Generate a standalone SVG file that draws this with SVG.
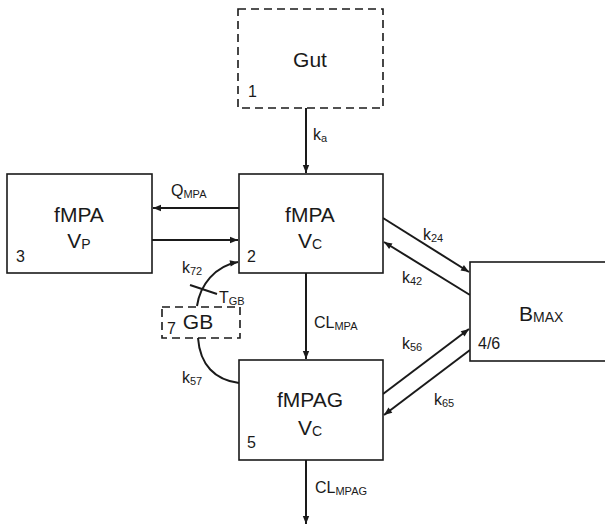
<svg xmlns="http://www.w3.org/2000/svg" width="605" height="526" viewBox="0 0 605 526">
<defs>
<marker id="ah" viewBox="0 0 10 10" refX="10" refY="5" markerWidth="9" markerHeight="8" markerUnits="userSpaceOnUse" orient="auto">
<path d="M0,1 L10,5 L0,9 z" fill="#1a1a1a"/>
</marker>
<style>
.box{fill:#fff;stroke:#1a1a1a;stroke-width:1.6}
.dbox{fill:none;stroke:#1a1a1a;stroke-width:1.6;stroke-dasharray:8,5}
.c{fill:none;stroke:#1a1a1a;stroke-width:2}
text{font-family:"Liberation Sans",Arial,sans-serif;fill:#1a1a1a}
.big{font-size:21px;text-anchor:middle}
.vs{font-size:14px}
.num{font-size:16px}
.lbl{font-size:16px}
.sub{font-size:11px}
</style>
</defs>
<g id="connectors">
<line class="c" x1="306" y1="108" x2="306" y2="173" marker-end="url(#ah)"/>
<line class="c" x1="239" y1="208" x2="153" y2="208" marker-end="url(#ah)"/>
<line class="c" x1="152" y1="240" x2="238" y2="240" marker-end="url(#ah)"/>
<path class="c" d="M197,306 C200,285 215,266 238,262" marker-end="url(#ah)"/>
<line class="c" x1="190" y1="285" x2="217" y2="294"/>
<path class="c" d="M198,338 C200,365 215,380 239,383"/>
<line class="c" x1="306" y1="273" x2="306" y2="359" marker-end="url(#ah)"/>
<line class="c" x1="306" y1="460" x2="306" y2="524" marker-end="url(#ah)"/>
<line class="c" x1="383" y1="218" x2="469" y2="272" marker-end="url(#ah)"/>
<line class="c" x1="470" y1="295" x2="384" y2="242" marker-end="url(#ah)"/>
<line class="c" x1="383" y1="394" x2="469" y2="329" marker-end="url(#ah)"/>
<line class="c" x1="470" y1="350" x2="384" y2="415" marker-end="url(#ah)"/>
</g>
<g id="gut">
<rect class="dbox" x="238" y="9" width="145" height="99"/>
<text class="big" x="310" y="67">Gut</text>
<text class="num" x="248" y="97">1</text>
</g>
<g id="fmpa-vc">
<rect class="box" x="239" y="174" width="144" height="99"/>
<text class="big" x="310" y="222">fMPA</text>
<text class="big" x="310" y="248">V<tspan class="vs" dy="1">C</tspan></text>
<text class="num" x="247" y="262">2</text>
</g>
<g id="fmpa-vp">
<rect class="box" x="7" y="174" width="145" height="99"/>
<text class="big" x="79" y="222">fMPA</text>
<text class="big" x="79" y="248">V<tspan class="vs" dy="1">P</tspan></text>
<text class="num" x="16" y="262">3</text>
</g>
<g id="gb">
<rect class="dbox" x="162" y="307" width="78" height="31"/>
<text class="num" x="167" y="334">7</text>
<text class="big" x="198" y="329">GB</text>
</g>
<g id="fmpag">
<rect class="box" x="239" y="360" width="144" height="100"/>
<text class="big" x="310" y="407">fMPAG</text>
<text class="big" x="310" y="435">V<tspan class="vs" dy="1">C</tspan></text>
<text class="num" x="247" y="448">5</text>
</g>
<g id="bmax">
<rect class="box" x="470" y="262" width="140" height="99"/>
<text x="519" y="321" font-size="21">B<tspan class="vs" dy="1">MAX</tspan></text>
<text class="num" x="478" y="349">4/6</text>
</g>
<g id="labels">
<text class="lbl" x="313" y="140">k<tspan class="sub" dy="2">a</tspan></text>
<text class="lbl" x="171" y="196">Q<tspan class="sub" dy="2">MPA</tspan></text>
<text class="lbl" x="182" y="273">k<tspan class="sub" dy="2">72</tspan></text>
<text class="lbl" x="219" y="303">T<tspan class="sub" dy="2">GB</tspan></text>
<text class="lbl" x="182" y="383">k<tspan class="sub" dy="2">57</tspan></text>
<text class="lbl" x="314" y="328">CL<tspan class="sub" dy="2">MPA</tspan></text>
<text class="lbl" x="315" y="493">CL<tspan class="sub" dy="2">MPAG</tspan></text>
<text class="lbl" x="423" y="240">k<tspan class="sub" dy="2">24</tspan></text>
<text class="lbl" x="402" y="283">k<tspan class="sub" dy="2">42</tspan></text>
<text class="lbl" x="402" y="349">k<tspan class="sub" dy="2">56</tspan></text>
<text class="lbl" x="434" y="405">k<tspan class="sub" dy="2">65</tspan></text>
</g>
</svg>
